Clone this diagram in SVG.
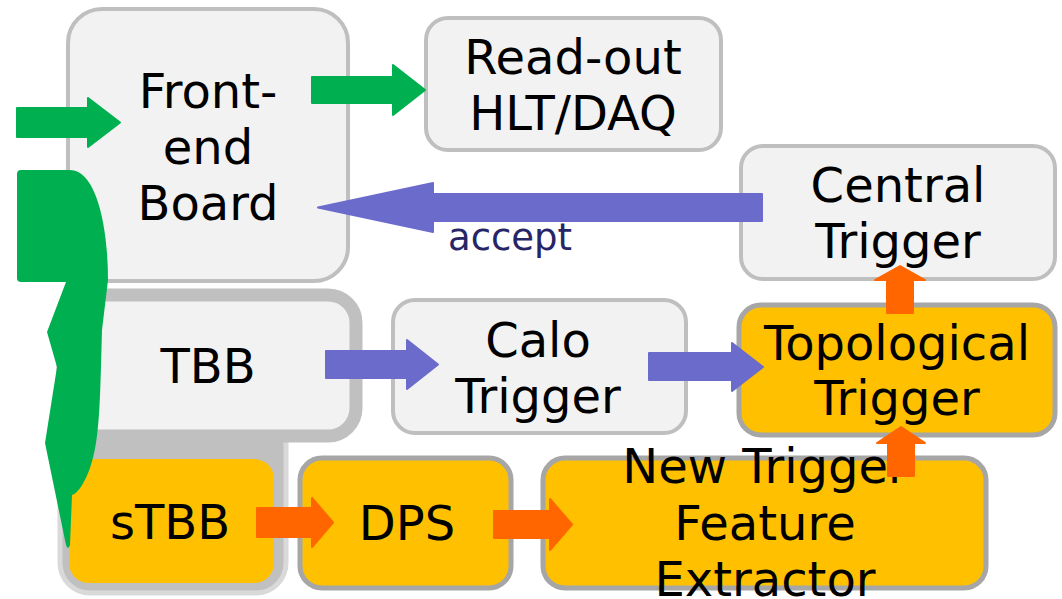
<svg xmlns="http://www.w3.org/2000/svg" width="1062" height="599" viewBox="0 0 1062 599">
<defs>
<style>
.box{fill:#f2f2f2;stroke:#bfbfbf;stroke-width:4}
.ybox{fill:#ffc000;stroke:#a6a6a6;stroke-width:5}
.t{font-family:"DejaVu Sans","Liberation Sans",sans-serif;font-size:48px;fill:#000;text-anchor:middle}
.g{fill:#00b050;stroke:#00b050;stroke-width:2;stroke-linejoin:round}
.b{fill:#6b6bcc;stroke:#6b6bcc;stroke-width:2;stroke-linejoin:round}
.o{fill:#ff6600;stroke:#ff6600;stroke-width:2;stroke-linejoin:round}
</style>
</defs>
<rect width="1062" height="599" fill="#ffffff"/>
<g id="frontend">
<rect class="box" x="68" y="9" width="280" height="272" rx="34"/>
<text class="t" x="208" y="108">Front-</text>
<text class="t" x="208" y="164">end</text>
<text class="t" x="208" y="220">Board</text>
</g>
<g id="readout">
<rect class="box" x="426" y="18" width="295" height="132" rx="22"/>
<text class="t" x="573" y="74">Read-out</text>
<text class="t" x="573" y="130">HLT/DAQ</text>
</g>
<g id="central">
<rect class="box" x="741" y="146" width="314" height="133" rx="22"/>
<text class="t" x="898" y="202">Central</text>
<text class="t" x="898" y="258">Trigger</text>
</g>
<g id="stbb">
<rect x="60" y="400" width="226" height="193" rx="30" fill="#c0c0c0" stroke="#d9d9d9" stroke-width="5"/>
<rect x="69" y="459" width="205" height="124" rx="20" fill="#ffc000"/>
<text class="t" x="170" y="539">sTBB</text>
</g>
<g id="tbb">
<rect x="63" y="295" width="293" height="141" rx="28" fill="#f2f2f2" stroke="#c0c0c0" stroke-width="13"/>
<text class="t" x="208" y="383">TBB</text>
</g>
<g id="calo">
<rect class="box" x="393" y="300" width="293" height="133" rx="22"/>
<text class="t" x="538" y="357">Calo</text>
<text class="t" x="538" y="413">Trigger</text>
</g>
<g id="topo">
<rect class="ybox" x="739" y="305" width="316" height="130" rx="22"/>
<text class="t" x="897" y="360">Topological</text>
<text class="t" x="897" y="415">Trigger</text>
</g>
<g id="dps">
<rect class="ybox" x="300" y="458" width="211" height="130" rx="22"/>
<text class="t" x="407" y="540">DPS</text>
</g>
<g id="ntfe">
<rect class="ybox" x="543" y="458" width="443" height="130" rx="22"/>
<text class="t" x="765" y="483">New Trigger</text>
<text class="t" x="765" y="540">Feature</text>
<text class="t" x="765" y="596">Extractor</text>
</g>
<g id="connectors">
<polygon class="g" points="17,108 88,108 88,98 120,122.5 88,147 88,137 17,137"/>
<polygon class="g" points="312,77 393,77 393,65 425,90 393,115 393,103 312,103"/>
<path fill="#00b050" d="M17,174 Q17,170 21,170 L70,170 C96,170 108,225 108,280 L102,330 C100,400 100,440 90,468 C84,484 78,493 72,495 L70,545 Q68,551 66,545 L45,443 L57,367 L47,332 L66,282 L21,282 Q17,282 17,278 Z"/>
<polygon class="b" points="762,194 433,194 433,183 318,207.5 433,232 433,221 762,221"/>
<text x="448" y="250" font-family="DejaVu Sans, Liberation Sans, sans-serif" font-size="37" fill="#262666">accept</text>
<polygon class="b" points="326,351 407,351 407,340 438,364.5 407,389 407,378 326,378"/>
<polygon class="b" points="649,353 732,353 732,343 763,367 732,391 732,380 649,380"/>
<polygon class="o" points="257,508 312,508 312,498 333,522.5 312,547 312,537 257,537"/>
<polygon class="o" points="494,511 550,511 550,499 572,524.5 550,550 550,538 494,538"/>
<polygon class="o" points="888,476 888,443 877,443 901,427 925,443 914,443 914,476"/>
<polygon class="o" points="887,313 887,280 875,280 900,266 925,280 913,280 913,313"/>
</g>
</svg>
